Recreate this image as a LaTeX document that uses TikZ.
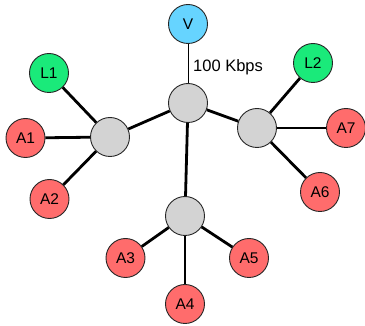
\documentclass[tikz,border=0pt]{standalone}
\usepackage{fontspec}
\setmainfont{Liberation Sans}
\definecolor{hostblue}{RGB}{102,212,255}
\definecolor{lgreen}{RGB}{26,234,122}
\definecolor{apred}{RGB}{255,108,108}
\definecolor{hubgray}{RGB}{211,211,211}
\begin{document}
\begin{tikzpicture}[x=1pt,y=-1pt,
  every node/.style={font=\fontsize{15.5}{17}\selectfont},
  dot/.style={circle,draw=black!85,line width=0.9pt,minimum size=39pt,inner sep=0pt},
  hub/.style={dot,fill=hubgray},
  apnode/.style={dot,fill=apred},
  lnode/.style={dot,fill=lgreen},
  vnode/.style={dot,fill=hostblue},
  link/.style={line width=2.8pt},
  thinlink/.style={line width=0.9pt}]
\useasboundingbox (0,0) rectangle (365,326);
% hubs
\node[hub] (hc) at (188,103) {};
\node[hub] (hl) at (110,137) {};
\node[hub] (hr) at (257,128) {};
\node[hub] (hb) at (185,216) {};
% end nodes
\node[vnode] (v) at (188,24) {V};
\node[lnode] (l1) at (49,73) {L1};
\node[lnode] (l2) at (313,63) {L2};
\node[apnode] (a1) at (25.5,138) {A1};
\node[apnode] (a2) at (49.5,199) {A2};
\node[apnode] (a3) at (125.5,258) {A3};
\node[apnode] (a4) at (185,304) {A4};
\node[apnode] (a5) at (249,258) {A5};
\node[apnode] (a6) at (320,192) {A6};
\node[apnode] (a7) at (346,128) {A7};
% links
\draw[thinlink] (v) -- (hc);
\draw[link] (hc) -- (hl);
\draw[link] (hc) -- (hr);
\draw[link] (hc) -- (hb);
\draw[link] (hl) -- (l1);
\draw[link] (hl) -- (a1);
\draw[link] (hl) -- (a2);
\draw[link] (hr) -- (l2);
\draw[link] (hr) -- (a7);
\draw[link] (hr) -- (a6);
\draw[link] (hb) -- (a3);
\draw[link] (hb) -- (a4);
\draw[link] (hb) -- (a5);
\node[anchor=west,inner sep=0pt,font=\fontsize{16.5}{18}\selectfont] (rate) at (193,67) {100 Kbps};
\end{tikzpicture}
\end{document}
